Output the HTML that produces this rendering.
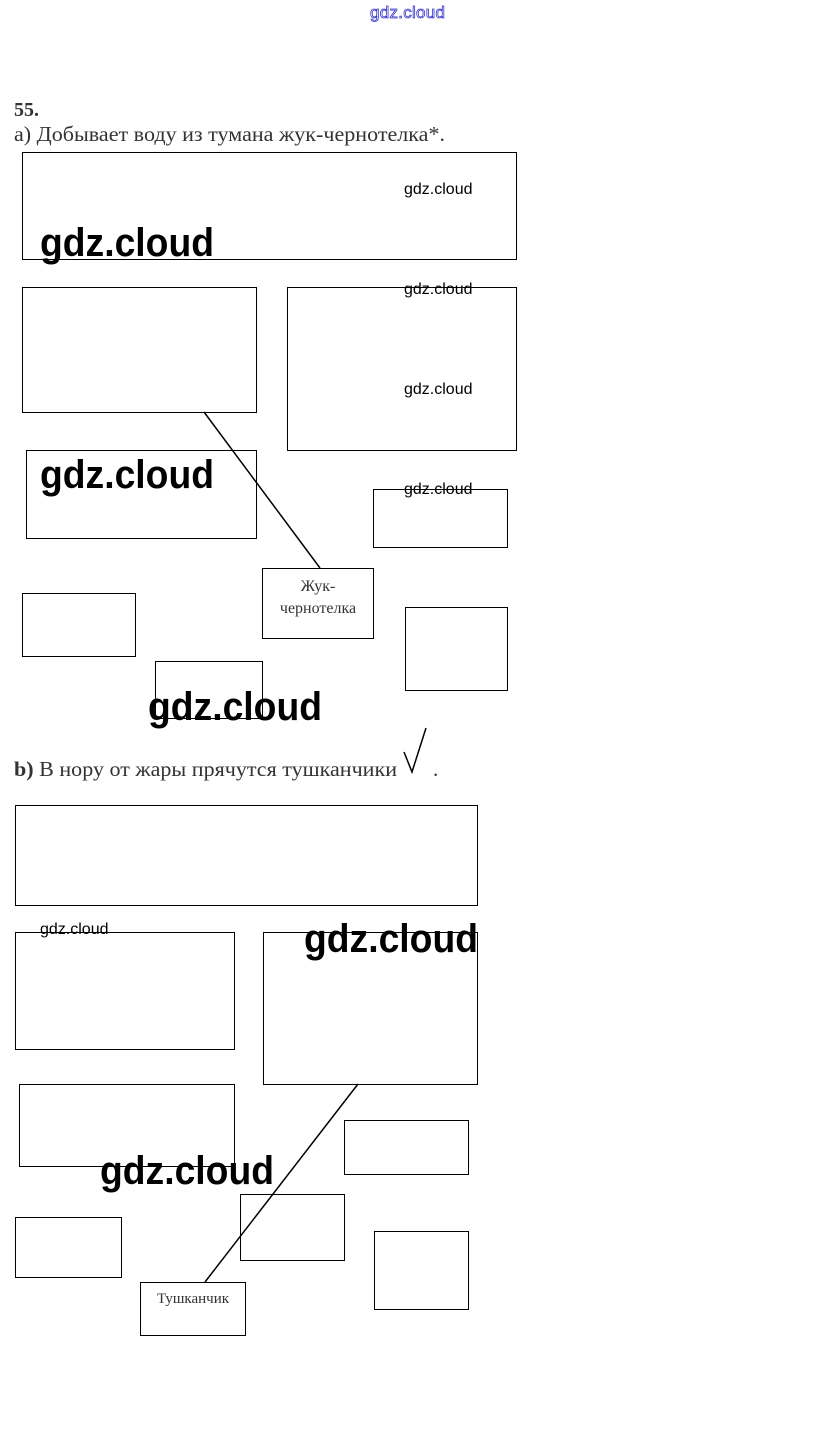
<!DOCTYPE html>
<html><head><meta charset="utf-8"><style>
html,body{margin:0;padding:0;background:#fff;width:815px;height:1442px;overflow:hidden}
svg{display:block}
.s{font-family:"Liberation Serif","Noto Serif CJK SC",serif;fill:#333}
.w{font-family:"Liberation Sans",sans-serif;font-weight:bold;fill:#000}
.ws{font-family:"Liberation Sans",sans-serif;fill:#000}
</style></head><body>
<svg width="815" height="1442" viewBox="0 0 815 1442">
<g fill="none" stroke="#000" stroke-width="1">
<rect x="22.5" y="152.5" width="494" height="107"/>
<rect x="22.5" y="287.5" width="234" height="125"/>
<rect x="287.5" y="287.5" width="229" height="163"/>
<rect x="26.5" y="450.5" width="230" height="88"/>
<rect x="373.5" y="489.5" width="134" height="58"/>
<rect x="262.5" y="568.5" width="111" height="70"/>
<rect x="22.5" y="593.5" width="113" height="63"/>
<rect x="155.5" y="661.5" width="107" height="57"/>
<rect x="405.5" y="607.5" width="102" height="83"/>
<line x1="204" y1="412" x2="320" y2="568" stroke-width="1.5"/>
<polyline points="404,752 412,772 426,728" stroke-width="1.5"/>
<rect x="15.5" y="805.5" width="462" height="100"/>
<rect x="15.5" y="932.5" width="219" height="117"/>
<rect x="263.5" y="932.5" width="214" height="152"/>
<rect x="19.5" y="1084.5" width="215" height="82"/>
<rect x="344.5" y="1120.5" width="124" height="54"/>
<rect x="240.5" y="1194.5" width="104" height="66"/>
<rect x="15.5" y="1217.5" width="106" height="60"/>
<rect x="374.5" y="1231.5" width="94" height="78"/>
<rect x="140.5" y="1282.5" width="105" height="53"/>
<line x1="358" y1="1084" x2="205" y2="1282" stroke-width="1.5"/>
</g>
<text x="370" y="18" font-family="Liberation Sans,sans-serif" font-size="17" fill="#fff" stroke="#33c" stroke-width="0.8" textLength="75">gdz.cloud</text>
<text x="14" y="116" class="s" font-size="20" font-weight="bold" fill="#000">55.</text>
<text x="14" y="141" class="s" font-size="21" textLength="431" lengthAdjust="spacingAndGlyphs">а) Добывает воду из тумана жук-чернотелка*.</text>
<text x="14" y="776" class="s" font-size="21" textLength="383" lengthAdjust="spacingAndGlyphs"><tspan font-weight="bold">b)</tspan> В нору от жары прячутся тушканчики</text>
<text x="433" y="776" class="s" font-size="21">.</text>
<text x="318" y="591" class="s" font-size="16" text-anchor="middle">Жук-</text>
<text x="318" y="613" class="s" font-size="16" text-anchor="middle">чернотелка</text>
<text x="193" y="1303" class="s" font-size="15" text-anchor="middle">Тушканчик</text>
<text x="404" y="194" class="ws" font-size="16">gdz.cloud</text>
<text x="404" y="294" class="ws" font-size="16">gdz.cloud</text>
<text x="404" y="394" class="ws" font-size="16">gdz.cloud</text>
<text x="404" y="494" class="ws" font-size="16">gdz.cloud</text>
<text x="40" y="934" class="ws" font-size="16">gdz.cloud</text>
<text x="40" y="256" class="w" font-size="40" textLength="174" lengthAdjust="spacingAndGlyphs">gdz.cloud</text>
<text x="40" y="488" class="w" font-size="40" textLength="174" lengthAdjust="spacingAndGlyphs">gdz.cloud</text>
<text x="148" y="720" class="w" font-size="40" textLength="174" lengthAdjust="spacingAndGlyphs">gdz.cloud</text>
<text x="304" y="952" class="w" font-size="40" textLength="174" lengthAdjust="spacingAndGlyphs">gdz.cloud</text>
<text x="100" y="1184" class="w" font-size="40" textLength="174" lengthAdjust="spacingAndGlyphs">gdz.cloud</text>
</svg>
</body></html>
